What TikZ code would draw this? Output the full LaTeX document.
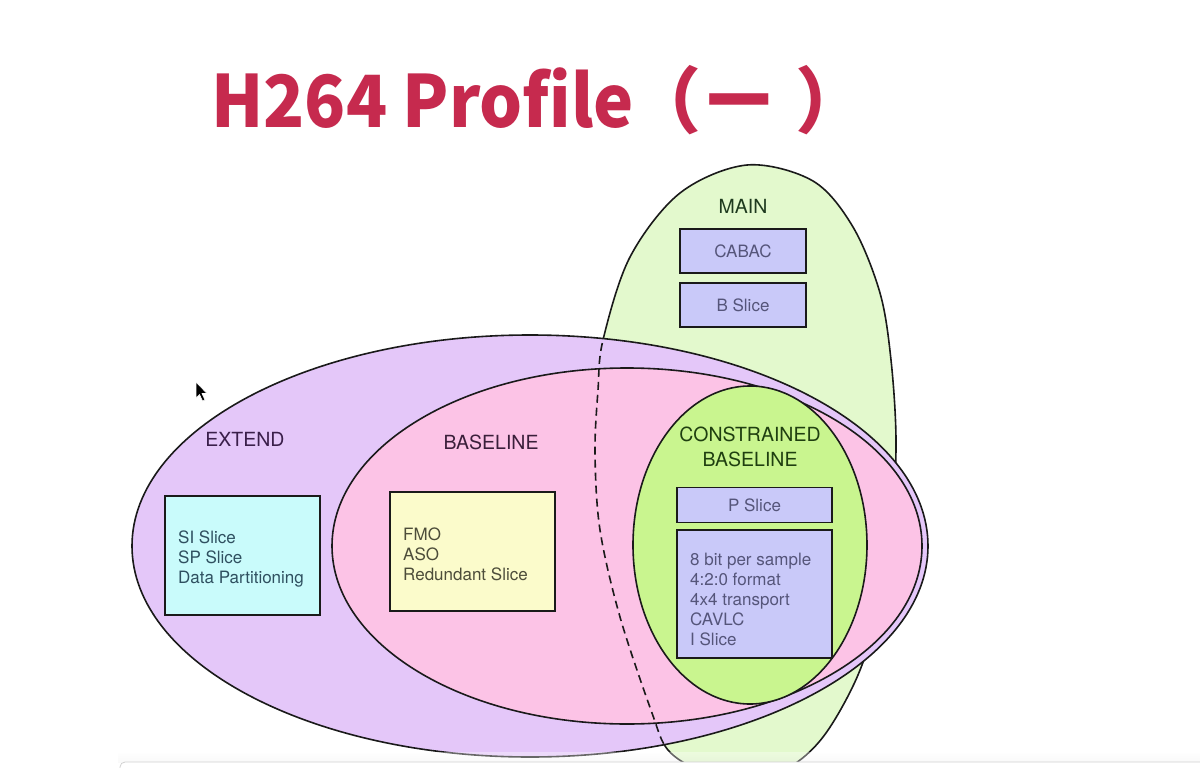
\documentclass[tikz,border=0pt]{standalone}
\usepackage{fontspec}
\setmainfont{TeX Gyre Heros}
\newfontfamily\titlefont{Noto Sans CJK SC}
\definecolor{titlered}{HTML}{C62A4E}
\definecolor{mainfill}{HTML}{E3F9CD}
\definecolor{purplefill}{HTML}{E4C7F9}
\definecolor{pinkfill}{HTML}{FCC3E6}
\definecolor{cbfill}{HTML}{C9F58F}
\definecolor{lavfill}{HTML}{C9C9F9}
\definecolor{cyanfill}{HTML}{C9FBFB}
\definecolor{yelfill}{HTML}{FBFBCB}
\definecolor{edge}{HTML}{1A1A1A}
\definecolor{maintxt}{HTML}{1E3A1E}
\definecolor{exttxt}{HTML}{3A1F4A}
\definecolor{basetxt}{HTML}{3A1F3A}
\definecolor{cbtxt}{HTML}{1F3F10}
\definecolor{lavtxt}{HTML}{55557A}
\definecolor{cyantxt}{HTML}{2F5060}
\definecolor{yeltxt}{HTML}{4D4D3A}
\begin{document}
\begin{tikzpicture}[x=1pt,y=-1pt,
  outline/.style={draw=edge, line width=1.6pt},
  mainpath/.style={insert path={plot[smooth cycle, tension=0.55] coordinates {
     (747,165) (813,181) (853,227) (880,293) (891,360) (896,440) (892,520)
     (878,610) (858,675) (826,733) (793,765) (745,786) (700,771) (668,750)
     (652,713) (620,617) (600,530) (595,453) (598,390) (603,340) (630,257) (680,193)}}},
  boxshape/.style={draw=edge, line width=1.6pt, rectangle, inner sep=0pt},
  lbl/.style={font=\fontsize{19.5}{23}\selectfont, align=center, inner sep=0pt},
  boxtxt/.style={font=\fontsize{17}{20}\selectfont, align=left, inner sep=0pt},
  cursorshape/.style={fill=black, draw=white, line width=0.6pt}
]
\useasboundingbox (0,0) rectangle (1200,768);
\fill[white] (0,0) rectangle (1200,768);

% title
\node[anchor=base west, inner sep=0pt, text=titlered,
      font=\titlefont\bfseries\fontsize{72}{80}\selectfont] (title) at (211,128)
      {\scalebox{0.94}[1]{H264 Profile}\hspace{-4pt}（\hspace{6pt}\scalebox{0.88}[1]{一}\hspace{24pt}）};

% MAIN
\path[fill=mainfill, outline, mainpath];
% EXTEND
\draw[fill=purplefill, outline] (530,546) ellipse [x radius=398pt, y radius=211pt];
% BASELINE
\draw[fill=pinkfill, outline] (627,546) ellipse [x radius=295pt, y radius=178pt];
% dashed hidden edge of MAIN
\begin{scope}
  \clip (0,0) rectangle (745,768);
  \clip (530,546) ellipse [x radius=398pt, y radius=211pt];
  \path[draw=edge, line width=1.6pt, dash pattern=on 8pt off 5pt, mainpath];
\end{scope}
% CONSTRAINED BASELINE
\draw[fill=cbfill, outline] (750,545) ellipse [x radius=117pt, y radius=159pt];

% labels
\node[lbl, text=maintxt] (mainlbl) at (743,206) {MAIN};
\node[lbl, text=exttxt] (extlbl) at (245,439) {EXTEND};
\node[lbl, text=basetxt] (baselbl) at (491,442) {BASELINE};
\node[lbl, text=cbtxt, font=\fontsize{19.5}{25}\selectfont] (cblbl) at (750,447) {CONSTRAINED\\BASELINE};

% boxes
\node[boxshape, fill=lavfill, minimum width=126pt, minimum height=44pt,
      text=lavtxt, font=\fontsize{17}{20}\selectfont] (cabac) at (743,251) {CABAC};
\node[boxshape, fill=lavfill, minimum width=126pt, minimum height=44pt,
      text=lavtxt, font=\fontsize{17}{20}\selectfont] (bslice) at (743,305) {B Slice};
\node[boxshape, fill=cyanfill, minimum width=155pt, minimum height=119pt] (sibox) at (242.5,555.5) {};
\node[boxshape, fill=yelfill, minimum width=165pt, minimum height=119pt] (fmobox) at (472.5,551.5) {};
\node[boxshape, fill=lavfill, minimum width=155pt, minimum height=35pt,
      text=lavtxt, font=\fontsize{17}{20}\selectfont] (pslice) at (754.5,505) {P Slice};
\node[boxshape, fill=lavfill, minimum width=155pt, minimum height=128pt] (ibox) at (754.5,594) {};

% box texts
\node[boxtxt, text=cyantxt, anchor=west] (sitxt) at (178,559) {SI Slice\\SP Slice\\Data Partitioning};
\node[boxtxt, text=yeltxt, anchor=west] (fmotxt) at (403,554) {FMO\\ASO\\Redundant Slice};
\node[boxtxt, text=lavtxt, anchor=west] (itxt) at (690,599) {8 bit per sample\\4:2:0 format\\4x4 transport\\CAVLC\\I Slice};

% bottom panel
\shade[top color=white, bottom color=black!6, opacity=0.35] (118,752) rectangle (1200,762);
\draw[fill=white, draw=black!18, line width=0.8pt, rounded corners=5pt] (120,762) rectangle (1215,790);

% cursor
\path[cursorshape] (196,382) -- (196,398) -- (199.5,394.5) -- (202.5,401) -- (205,400) -- (202,393.5) -- (207,393.5) -- cycle;
\end{tikzpicture}
\end{document}
